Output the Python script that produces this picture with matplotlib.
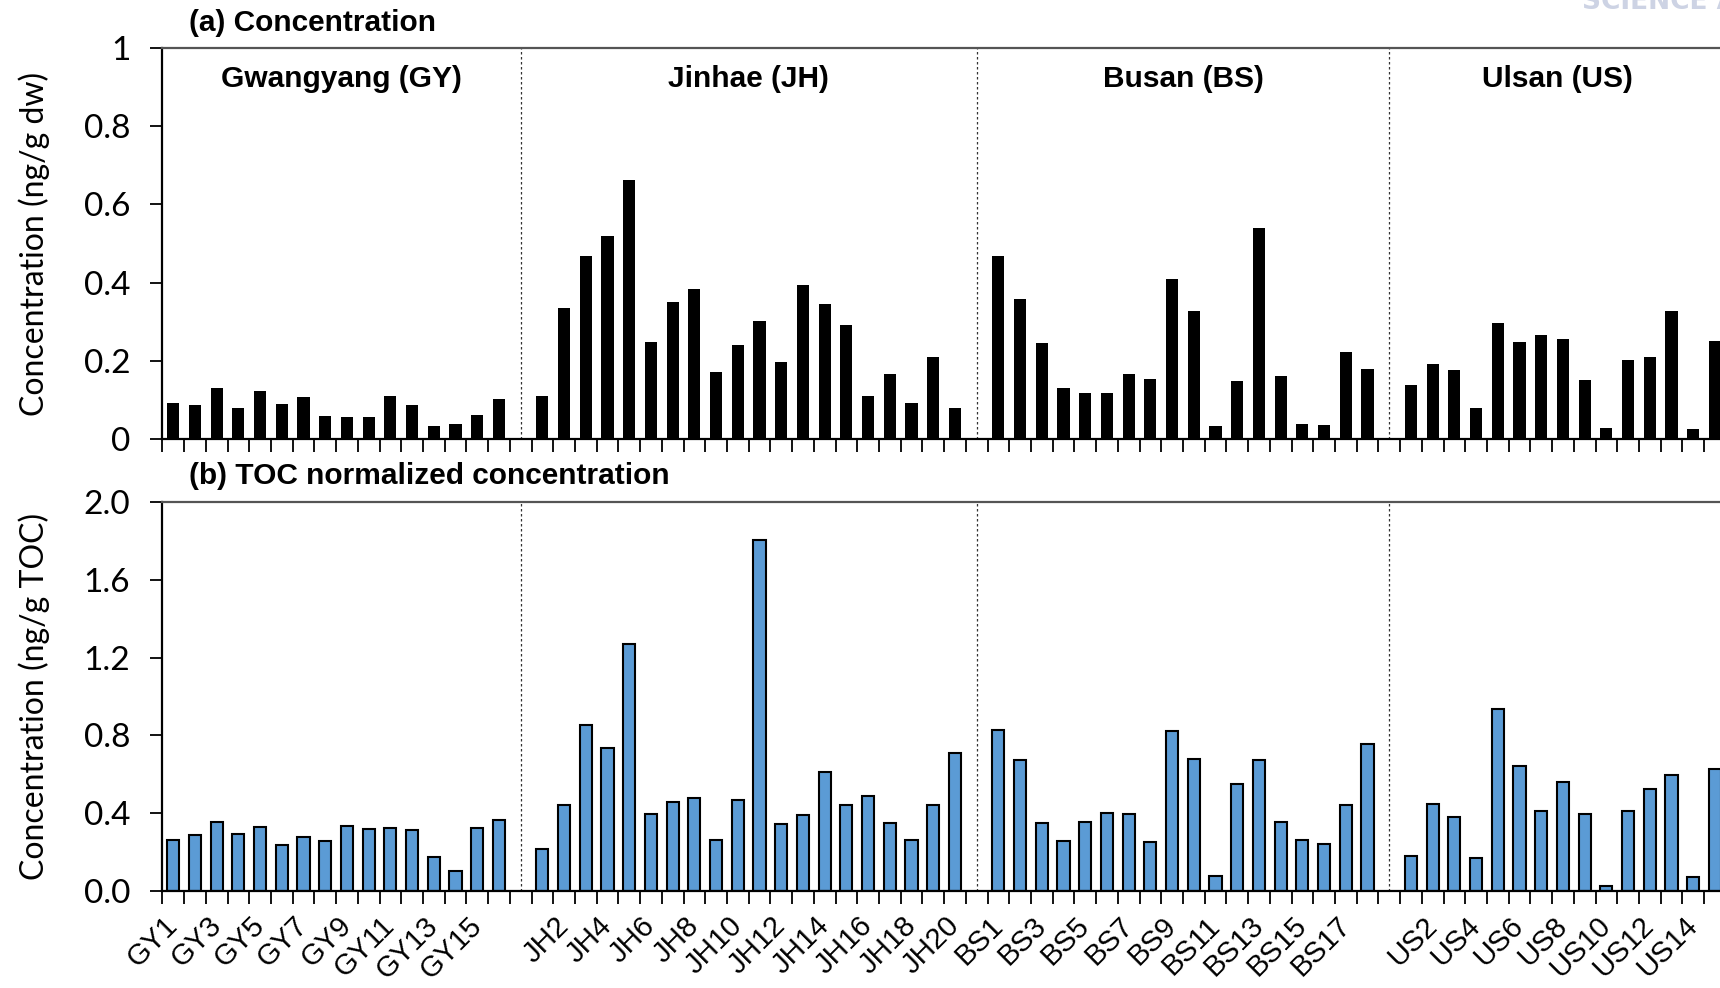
import numpy as np
import matplotlib.pyplot as plt

gy_sites = ["GY%d" % i for i in range(1, 17)]
jh_sites = ["JH%d" % i for i in range(1, 21)]
bs_sites = ["BS%d" % i for i in range(1, 19)]
us_sites = ["US%d" % i for i in range(1, 16)]

# (a) concentration, ng/g dw
gy_conc = [0.092, 0.086, 0.130, 0.078, 0.123, 0.090, 0.107, 0.059, 0.055, 0.056,
           0.110, 0.087, 0.032, 0.037, 0.061, 0.103]
jh_conc = [0.109, 0.336, 0.469, 0.520, 0.663, 0.248, 0.351, 0.383, 0.171, 0.240,
           0.301, 0.197, 0.394, 0.344, 0.292, 0.109, 0.165, 0.091, 0.210, 0.080]
bs_conc = [0.469, 0.357, 0.246, 0.129, 0.118, 0.118, 0.165, 0.153, 0.408, 0.326,
           0.032, 0.147, 0.540, 0.161, 0.038, 0.034, 0.222, 0.179]
us_conc = [0.138, 0.191, 0.176, 0.080, 0.296, 0.249, 0.265, 0.255, 0.150, 0.027,
           0.203, 0.210, 0.327, 0.025, 0.251]

# (b) TOC normalized, ng/g TOC
gy_toc = [0.264, 0.286, 0.354, 0.291, 0.327, 0.236, 0.275, 0.257, 0.336, 0.320,
          0.322, 0.313, 0.173, 0.103, 0.324, 0.365]
jh_toc = [0.216, 0.441, 0.856, 0.737, 1.270, 0.396, 0.455, 0.478, 0.264, 0.468,
          1.808, 0.344, 0.392, 0.613, 0.442, 0.487, 0.351, 0.259, 0.444, 0.712]
bs_toc = [0.827, 0.671, 0.351, 0.257, 0.354, 0.399, 0.396, 0.252, 0.822, 0.678,
          0.077, 0.552, 0.674, 0.353, 0.264, 0.243, 0.441, 0.755]
us_toc = [0.178, 0.448, 0.381, 0.169, 0.935, 0.640, 0.412, 0.561, 0.397, 0.027,
          0.412, 0.525, 0.594, 0.072, 0.626]

regions = ["Gwangyang (GY)", "Jinhae (JH)", "Busan (BS)", "Ulsan (US)"]

gap = [np.nan]
labels = gy_sites + [""] + jh_sites + [""] + bs_sites + [""] + us_sites
conc = gy_conc + gap + jh_conc + gap + bs_conc + gap + us_conc
toc = gy_toc + gap + jh_toc + gap + bs_toc + gap + us_toc
x = np.arange(len(labels))
seps = [i for i, l in enumerate(labels) if l == ""]
right = len(labels) - 0.5

fig = plt.figure(figsize=(17.2, 9.88), dpi=100)
ax1 = fig.add_axes([0.0944, 0.5559, 0.909, 0.3952])
ax2 = fig.add_axes([0.0944, 0.0984, 0.909, 0.3931])

ax1.bar(x, conc, width=0.56, color="black")
ax2.bar(x, toc, width=0.56, color="#5B9BD5", edgecolor="black", linewidth=1.5)

for ax in (ax1, ax2):
    ax.set_xlim(-0.5, right)
    for s in seps:
        ax.axvline(s, color="#333333", linestyle=(0, (2, 2)), linewidth=0.9)
    ax.spines["right"].set_visible(False)
    ax.spines["top"].set_color("#555555")
    ax.spines["top"].set_linewidth(1.6)
    ax.spines["left"].set_linewidth(1.6)
    ax.spines["bottom"].set_linewidth(1.6)
    ax.set_xticks(np.arange(-0.5, right + 0.1, 1), [""] * (len(labels) + 1))
    ax.tick_params(axis="x", which="major", direction="out", length=9, width=1.3)
    ax.tick_params(axis="y", direction="out", length=9, width=1.3, pad=14)

ax1.set_ylim(0, 1)
ax1.set_yticks([0, 0.2, 0.4, 0.6, 0.8, 1], ["0", "0.2", "0.4", "0.6", "0.8", "1"],
               fontfamily="Lato", fontsize=24)
ax1.set_ylabel("Concentration (ng/g dw)", fontfamily="Lato", fontsize=23, labelpad=24)

ax2.set_ylim(0, 2)
ax2.set_yticks([0, 0.4, 0.8, 1.2, 1.6, 2.0], ["0.0", "0.4", "0.8", "1.2", "1.6", "2.0"],
               fontfamily="Lato", fontsize=24)
ax2.set_ylabel("Concentration (ng/g TOC)", fontfamily="Lato", fontsize=23, labelpad=24)

ax2.set_xticks(x[::2], labels[::2], minor=True, fontfamily="Liberation Sans", fontsize=21,
               rotation=45, ha="right", va="center", rotation_mode="anchor")
ax2.tick_params(axis="x", which="minor", length=0, pad=22)

bounds = [-0.5] + seps + [right]
for i, name in enumerate(regions):
    ax1.text((bounds[i] + bounds[i + 1]) / 2, 0.922, name, transform=ax1.get_xaxis_transform(),
             ha="center", va="center", fontfamily="Liberation Sans", fontweight="bold", fontsize=21.5)

fig.text(0.1097, 0.977, "(a) Concentration", ha="left", va="center",
         fontfamily="Liberation Sans", fontweight="bold", fontsize=21.5)
fig.text(0.1097, 0.518, "(b) TOC normalized concentration", ha="left", va="center",
         fontfamily="Liberation Sans", fontweight="bold", fontsize=21.5)
fig.text(0.92, 0.998, "SCIENCE A", ha="left", va="center", color="#cdd3e4",
         fontfamily="DejaVu Sans", fontweight="bold", fontsize=19)

fig.savefig("out.png", dpi=100)
